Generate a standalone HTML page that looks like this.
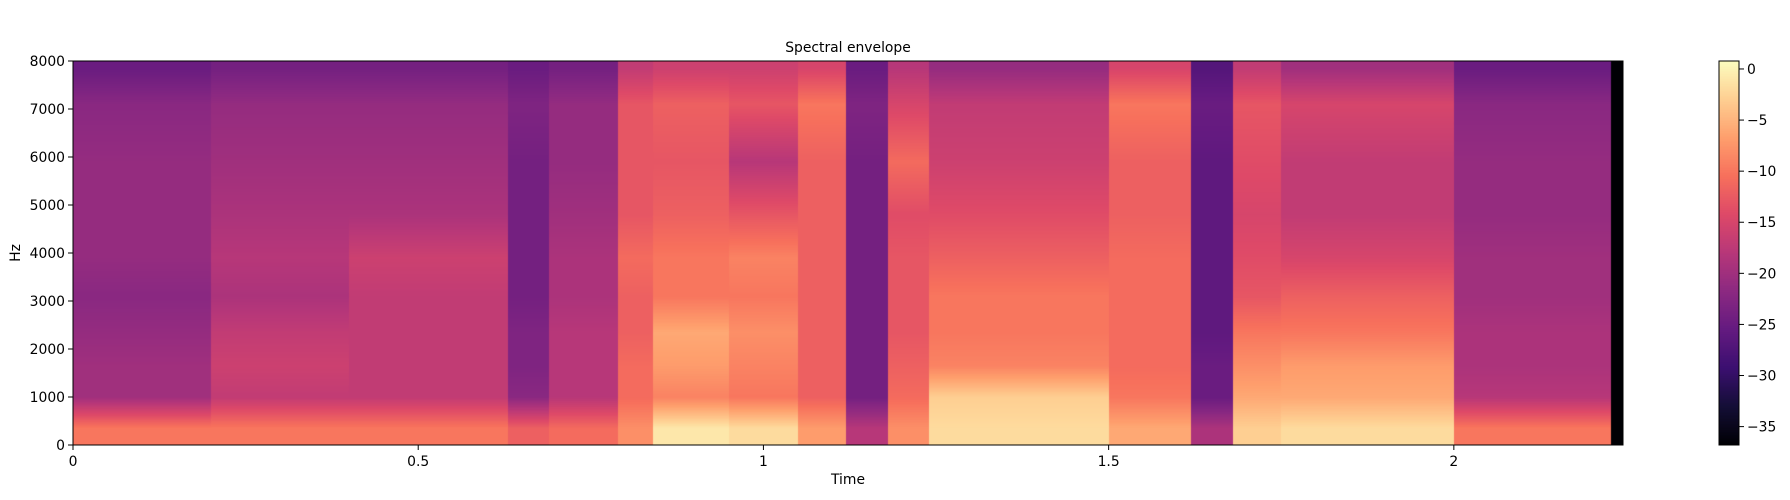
<!DOCTYPE html>
<html><head><meta charset="utf-8"><style>
body{margin:0;background:#fff;width:1790px;height:500px;overflow:hidden;position:relative;font-family:"DejaVu Sans","Liberation Sans",sans-serif}
canvas{position:absolute}
svg{position:absolute;left:0;top:0}
text{font-family:"DejaVu Sans","Liberation Sans",sans-serif;font-size:13.9px;fill:#000}
</style></head><body>
<canvas id="hm" width="1550" height="384" style="left:73px;top:61px"></canvas>
<canvas id="cb" width="20" height="384" style="left:1719px;top:61px"></canvas>
<svg id="ax" width="1790" height="500"></svg>
<script>
const timeEdges=[0,0.2,0.4,0.63,0.69,0.79,0.84,0.95,1.05,1.12,1.18,1.24,1.5,1.62,1.68,1.75,2.0,2.227,2.245];
const freqEdges=[0,700,1300,2000,2700,3500,4300,5300,6500,7700,8000];
const dbValues=[
[-10,-20,-20,-21,-22,-21,-21,-21,-22,-25],
[-10,-17,-16,-17,-19,-18,-19,-20,-21,-24],
[-10,-17,-17,-17,-17,-16,-19,-20,-21,-24],
[-12,-22,-23,-23,-24,-24,-24,-24,-23,-25],
[-11,-18,-18,-18,-19,-19,-20,-21,-21,-24],
[-8,-11,-11,-12,-12,-11,-13,-13,-13,-17],
[-1,-9,-7,-6,-10,-10,-12,-13,-12,-16],
[-2,-10,-9,-8,-10,-9,-13,-18,-13,-16],
[-7,-12,-12,-12,-12,-12,-12,-12,-10,-15],
[-18,-24,-24,-24,-24,-24,-24,-24,-23,-25],
[-8,-11,-12,-13,-13,-13,-14,-11,-15,-18],
[-2,-3,-9,-10,-10,-12,-14,-16,-17,-21],
[-6,-10,-11,-11,-11,-11,-12,-12,-10,-15],
[-19,-25,-25,-26,-26,-26,-26,-26,-25,-27],
[-3,-6,-8,-10,-13,-14,-15,-14,-13,-17],
[-2,-6,-7,-10,-12,-15,-17,-17,-15,-20],
[-10,-18,-19,-19,-20,-20,-21,-21,-22,-25],
[-37,-37,-37,-37,-37,-37,-37,-37,-37,-37]];
const xTicks=[0,0.5,1,1.5,2];
const xTickLabels=["0","0.5","1","1.5","2"];
const yTicks=[0,1000,2000,3000,4000,5000,6000,7000,8000];
const cbTicks=[0,-5,-10,-15,-20,-25,-30,-35];
const cbTickLabels=["0","\u22125","\u221210","\u221215","\u221220","\u221225","\u221230","\u221235"];
const VMIN=-36.8,VMAX=0.78,TMAX=2.245,FMAX=8000;
const L=73,T=61,W=1550,H=384,CBX=1719,CBW=20;
const sx=t=>L+t/TMAX*W, sy=f=>T+H-f/FMAX*H, cy=v=>T+(VMAX-v)/(VMAX-VMIN)*H;
const magma=[[0,0,4],[20,14,54],[59,15,112],[100,26,128],[140,41,129],[183,55,121],[222,73,104],[247,112,92],[254,159,109],[254,207,146],[252,253,191]];
function cmap(v){let x=Math.max(0,Math.min(1,(v-VMIN)/(VMAX-VMIN)))*10;let i=Math.min(9,Math.floor(x)),f=x-i;
return magma[i].map((c,k)=>Math.round(c+(magma[i+1][k]-c)*f));}
const ctx=document.getElementById('hm').getContext('2d');
const img=ctx.createImageData(W,H);
const centers=freqEdges.slice(0,-1).map((f,i)=>(f+freqEdges[i+1])/2);
for(let px=0;px<W;px++){
 const t=(px+0.5)/W*TMAX;let c=0;while(c<timeEdges.length-2&&t>=timeEdges[c+1])c++;
 const col=dbValues[c];
 for(let py=0;py<H;py++){
  const f=(H-py-0.5)/H*FMAX;let v;
  if(f<=centers[0])v=col[0];else if(f>=centers[centers.length-1])v=col[col.length-1];
  else{let j=0;while(f>centers[j+1])j++;const a=(f-centers[j])/(centers[j+1]-centers[j]);v=col[j]+(col[j+1]-col[j])*a;}
  const rgb=cmap(v),o=(py*W+px)*4;img.data[o]=rgb[0];img.data[o+1]=rgb[1];img.data[o+2]=rgb[2];img.data[o+3]=255;}
}
ctx.putImageData(img,0,0);
const cb=document.getElementById('cb').getContext('2d');
for(let py=0;py<H;py++){const v=VMAX-(py+0.5)/H*(VMAX-VMIN);const c=cmap(v);cb.fillStyle=`rgb(${c[0]},${c[1]},${c[2]})`;cb.fillRect(0,py,CBW,1);}
const svg=document.getElementById('ax');const NS='http://www.w3.org/2000/svg';
function mk(tag,attrs,txt){const e=document.createElementNS(NS,tag);for(const k in attrs)e.setAttribute(k,attrs[k]);if(txt!==undefined)e.textContent=txt;svg.appendChild(e);return e;}
let e=mk('rect',{x:L,y:T,width:W,height:H,fill:'none',stroke:'#000','stroke-width':1});


e=mk('rect',{x:CBX,y:T,width:CBW,height:H,fill:'none',stroke:'#000','stroke-width':1});


xTicks.forEach((t,i)=>{const x=sx(t);
 e=mk('line',{x1:x,x2:x,y1:T+H,y2:T+H+5,stroke:'#000'});
 
 
 e=mk('text',{x:x,y:T+H+21,'text-anchor':'middle'},xTickLabels[i]);
 
 });
yTicks.forEach(f=>{const y=sy(f);
 e=mk('line',{x1:L-5,x2:L,y1:y,y2:y,stroke:'#000'});
 
 
 e=mk('text',{x:L-8,y:y+5,'text-anchor':'end'},String(f));
 
 });
cbTicks.forEach((v,i)=>{const y=cy(v);
 e=mk('line',{x1:CBX+CBW,x2:CBX+CBW+5,y1:y,y2:y,stroke:'#000'});
 
 
 e=mk('text',{x:CBX+CBW+8,y:y+5},cbTickLabels[i]);
 
 });
e=mk('text',{x:L+W/2,y:52,'text-anchor':'middle','font-size':'16.7'},'Spectral envelope');


e=mk('text',{x:L+W/2,y:484,'text-anchor':'middle'},'Time');


e=mk('text',{x:20,y:T+H/2,'text-anchor':'middle',transform:`rotate(-90 20 ${T+H/2})`},'Hz');


</script>
</body></html>
